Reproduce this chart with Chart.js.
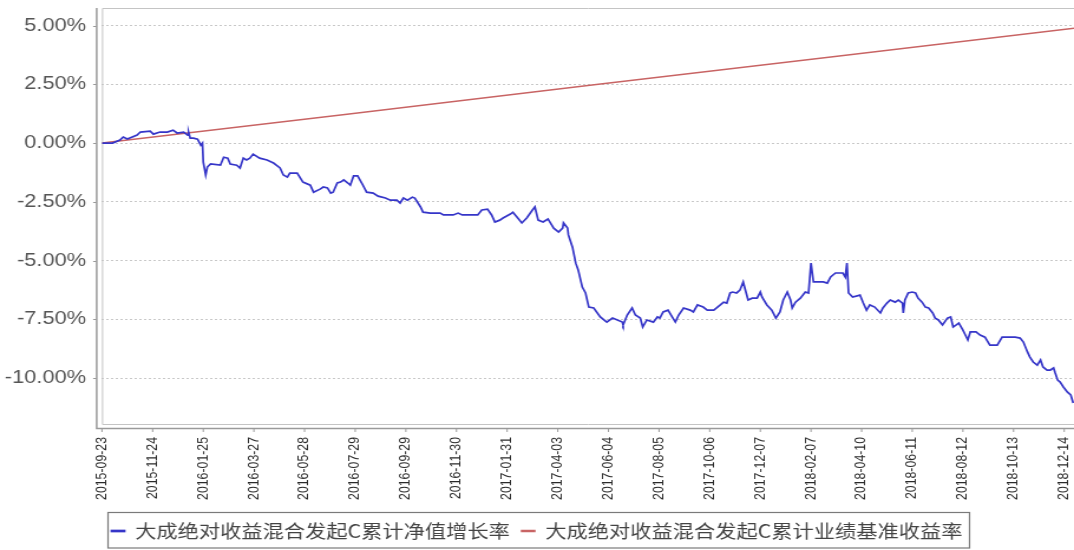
<!DOCTYPE html>
<html>
<head>
<meta charset="utf-8">
<script src="https://cdn.jsdelivr.net/npm/chart.js@4.4.1/dist/chart.umd.min.js"></script>
<style>
  html, body { margin: 0; padding: 0; background: #fff; overflow: hidden; }
</style>
</head>
<body>
<!-- drawn narrower and stretched, like the original picture -->
<canvas id="fundChart" width="910" height="550" style="width:1074px;height:550px;display:block"></canvas>
<script>
const startDate = '2015-09-23';

const xTickLabels = [
  '2015-09-23', '2015-11-24', '2016-01-25', '2016-03-27', '2016-05-28',
  '2016-07-29', '2016-09-29', '2016-11-30', '2017-01-31', '2017-04-03',
  '2017-06-04', '2017-08-05', '2017-10-06', '2017-12-07', '2018-02-07',
  '2018-04-10', '2018-06-11', '2018-08-12', '2018-10-13', '2018-12-14'
];
const yTickValues = [5, 2.5, 0, -2.5, -5, -7.5, -10];

// days since start date
const navDays = [
  0, 13, 22, 26, 31, 43, 47, 59, 63, 71, 80, 87, 92, 100, 105, 106, 108, 112, 117, 121,
  123, 124, 127, 129, 133, 145, 149, 154, 157, 165, 169, 173, 177, 181, 185, 193, 202, 210, 218, 222,
  227, 230, 239, 246, 255, 259, 267, 271, 276, 280, 283, 288, 292, 296, 301, 304, 308, 313, 318, 324,
  332, 338, 347, 353, 361, 365, 369, 374, 380, 383, 390, 393, 402, 414, 418, 430, 436, 441, 460, 465,
  472, 477, 481, 487, 491, 500, 503, 508, 514, 520, 527, 530, 534, 540, 546, 553, 559, 564, 565, 570,
  571, 576, 580, 583, 588, 592, 596, 602, 610, 618, 625, 637, 638, 643, 649, 653, 659, 662, 667, 675,
  680, 683, 687, 693, 698, 702, 706, 712, 720, 724, 729, 736, 741, 749, 757, 761, 765, 769, 772, 777,
  781, 785, 787, 791, 796, 802, 806, 808, 814, 820, 825, 830, 834, 839, 843, 845, 849, 855, 861, 865,
  868, 871, 876, 883, 888, 892, 898, 907, 910, 912, 914, 919, 928, 932, 936, 940, 946, 953, 956, 961,
  965, 971, 975, 980, 981, 983, 987, 992, 996, 999, 1004, 1008, 1012, 1017, 1020, 1024, 1029, 1035, 1039, 1042,
  1049, 1054, 1057, 1060, 1063, 1070, 1075, 1081, 1087, 1096, 1102, 1118, 1124, 1128, 1133, 1136, 1140, 1145, 1149, 1152,
  1157, 1161, 1165, 1167, 1170, 1173, 1177, 1182, 1186, 1189
];
// 净值增长率 (%)
const navValues = [
  0.00, 0.00, 0.13, 0.26, 0.17, 0.34, 0.47, 0.51, 0.38, 0.47, 0.47, 0.55, 0.43, 0.47, 0.34, 0.47, 0.21, 0.21, 0.17, -0.09,
  0.00, -0.81, -1.36, -1.02, -0.89, -0.94, -0.60, -0.64, -0.89, -0.94, -1.06, -0.64, -0.72, -0.64, -0.47, -0.64, -0.72, -0.85, -1.06, -1.36,
  -1.45, -1.28, -1.28, -1.66, -1.79, -2.09, -1.96, -1.87, -1.91, -2.13, -2.09, -1.70, -1.66, -1.57, -1.70, -1.79, -1.40, -1.40, -1.70, -2.09,
  -2.13, -2.26, -2.34, -2.43, -2.43, -2.55, -2.34, -2.43, -2.30, -2.34, -2.72, -2.94, -2.98, -2.98, -3.06, -3.06, -2.98, -3.06, -3.06, -2.85,
  -2.81, -3.06, -3.36, -3.28, -3.19, -3.02, -2.94, -3.15, -3.40, -3.19, -2.85, -2.72, -3.28, -3.36, -3.23, -3.62, -3.79, -3.62, -3.40, -3.62,
  -3.91, -4.43, -5.11, -5.40, -6.13, -6.38, -6.98, -7.02, -7.40, -7.62, -7.45, -7.62, -7.74, -7.32, -7.02, -7.32, -7.45, -7.83, -7.53, -7.62,
  -7.40, -7.45, -7.19, -7.11, -7.40, -7.62, -7.32, -7.02, -7.11, -7.19, -6.89, -6.98, -7.11, -7.11, -6.89, -6.77, -6.81, -6.38, -6.34, -6.38,
  -6.26, -5.91, -6.17, -6.68, -6.60, -6.60, -6.34, -6.55, -6.89, -7.11, -7.45, -7.19, -6.68, -6.34, -6.68, -7.02, -6.77, -6.60, -6.34, -6.38,
  -5.11, -5.91, -5.91, -5.91, -5.96, -5.70, -5.53, -5.53, -5.70, -5.11, -6.38, -6.55, -6.47, -6.81, -7.11, -6.89, -6.98, -7.23, -7.02, -6.81,
  -6.68, -6.77, -6.68, -6.81, -7.23, -6.68, -6.38, -6.34, -6.38, -6.60, -6.77, -6.98, -7.02, -7.23, -7.45, -7.53, -7.74, -7.45, -7.40, -7.83,
  -7.66, -7.96, -8.17, -8.38, -8.04, -8.04, -8.17, -8.26, -8.60, -8.60, -8.26, -8.26, -8.30, -8.47, -8.89, -9.11, -9.32, -9.45, -9.23, -9.53,
  -9.66, -9.66, -9.57, -9.79, -10.09, -10.17, -10.38, -10.60, -10.72, -11.06
];

// 业绩基准收益率 (%)
const benchDays = [0, 300, 600, 900, 1190];
const benchValues = [0.00, 1.23, 2.47, 3.70, 4.89];

const seriesNames = ['大成绝对收益混合发起C累计净值增长率', '大成绝对收益混合发起C累计业绩基准收益率'];

const dayMs = 86400000;
const xTickDays = xTickLabels.map(d => Math.round((Date.parse(d) - Date.parse(startDate)) / dayMs));

const framePlugin = {
  id: 'frame',
  beforeDatasetsDraw(chart) {
    const { ctx, chartArea: a, scales } = chart;
    ctx.save();
    ctx.strokeStyle = '#c4c4c4';
    ctx.lineWidth = 1;
    ctx.beginPath();
    ctx.moveTo(a.right, a.top + 0.5);
    ctx.lineTo(a.left + 0.5, a.top + 0.5);
    ctx.lineTo(a.left + 0.5, a.bottom - 0.5);
    ctx.lineTo(a.right, a.bottom - 0.5);
    ctx.stroke();

    const ox = a.left - 4.5;
    const oy = a.bottom + 3.5;
    ctx.strokeStyle = '#9a9a9a';
    ctx.lineWidth = 1.5;
    ctx.beginPath();
    ctx.moveTo(ox, a.top);
    ctx.lineTo(ox, oy);
    ctx.lineTo(a.right, oy);
    ctx.stroke();

    ctx.lineWidth = 1;
    ctx.beginPath();
    scales.y.ticks.forEach(t => {
      const y = Math.round(scales.y.getPixelForValue(t.value)) + 0.5;
      ctx.moveTo(ox - 3, y);
      ctx.lineTo(ox, y);
    });
    scales.x.ticks.forEach(t => {
      const x = scales.x.getPixelForValue(t.value);
      ctx.moveTo(x, oy);
      ctx.lineTo(x, oy + 3.5);
    });
    ctx.stroke();
    ctx.restore();
  },
  afterDraw(chart) {
    const boxes = chart.legend.legendHitBoxes;
    if (!boxes.length) return;
    const first = boxes[0];
    const last = boxes[boxes.length - 1];
    const l = first.left - 3;
    const r = last.left + last.width + 6;
    const t = first.top - 9.5;
    const b = first.top + first.height + 8;
    const ctx = chart.ctx;
    ctx.save();
    ctx.strokeStyle = '#7a7a7a';
    ctx.lineWidth = 1.2;
    ctx.strokeRect(l, t, r - l, b - t);
    ctx.restore();
  }
};

const ctx = document.getElementById('fundChart').getContext('2d');

const chart = new Chart(ctx, {
  type: 'line',
  data: {
    datasets: [{
      label: seriesNames[0],
      data: navDays.map((d, i) => ({ x: d, y: navValues[i] })),
      borderColor: '#3535c8',
      backgroundColor: '#3535c8',
      borderWidth: 1.7,
      pointRadius: 0,
      tension: 0
    }, {
      label: seriesNames[1],
      data: benchDays.map((d, i) => ({ x: d, y: benchValues[i] })),
      borderColor: '#c86464',
      backgroundColor: '#c86464',
      borderWidth: 1.5,
      pointRadius: 0,
      tension: 0
    }]
  },
  options: {
    responsive: false,
    animation: false,
    layout: { padding: { top: 8, right: 0, bottom: 0, left: 0 } },
    plugins: {
      tooltip: { enabled: false },
      legend: {
        position: 'bottom',
        labels: {
          boxWidth: 11,
          boxHeight: 1,
          padding: 10,
          color: '#444',
          font: { family: '"Noto Sans CJK SC"', size: 18 }
        }
      }
    },
    scales: {
      x: {
        type: 'linear',
        min: 0,
        max: 1190,
        afterBuildTicks: s => { s.ticks = xTickDays.map(v => ({ value: v })); },
        afterFit: s => { s.height = 87; s.paddingLeft = 0; s.paddingRight = 0; },
        grid: { display: false, drawTicks: false },
        border: { display: false },
        ticks: {
          autoSkip: false,
          minRotation: 90,
          maxRotation: 90,
          padding: 12,
          color: '#2a2a2a',
          font: { family: '"Liberation Sans", Arial, sans-serif', size: 12.3 },
          callback: (v, i) => xTickLabels[i]
        }
      },
      y: {
        min: -12,
        max: 5.75,
        afterBuildTicks: s => { s.ticks = yTickValues.map(v => ({ value: v })); },
        afterFit: s => { s.width = 86.4; s.paddingTop = 0; s.paddingBottom = 0; },
        grid: { color: '#c8c8c8', drawTicks: false },
        border: { display: false, dash: [2, 2] },
        ticks: {
          padding: 13.4,
          color: '#555',
          font: { family: '"Liberation Sans", Arial, sans-serif', size: 18.5 },
          callback: v => v.toFixed(2) + '%'
        }
      }
    }
  },
  plugins: [framePlugin]
});
</script>
</body>
</html>
